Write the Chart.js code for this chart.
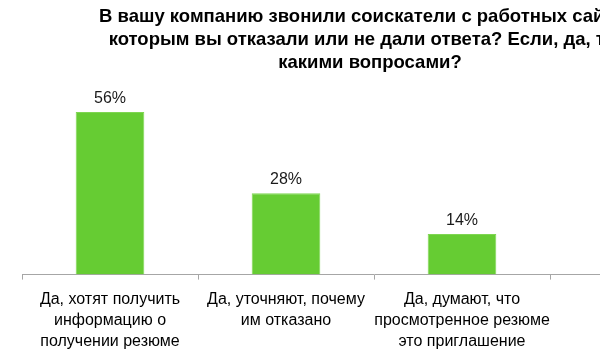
<!DOCTYPE html>
<html>
<head>
<meta charset="utf-8">
<script src="https://cdn.jsdelivr.net/npm/chart.js@4"></script>
<style>
  html, body { margin: 0; padding: 0; background: #fff; overflow: hidden; }
  #wrap { width: 726px; height: 364px; }
</style>
</head>
<body>
<div id="wrap"><canvas id="grafico" width="726" height="364"></canvas></div>
<script>
// datos (la 4ª categoría queda fuera del recorte)
const categorias = [
    ['Да, хотят получить', 'информацию о', 'получении резюме'],
    ['Да, уточняют, почему', 'им отказано'],
    ['Да, думают, что', 'просмотренное резюме', 'это приглашение'],
    ['']
];
const valores = [56, 28, 14];
const titulo = [
    'В вашу компанию звонили соискатели с работных сайтов,',
    'которым вы отказали или не дали ответа? Если, да, то с',
    'какими вопросами?'
];

const fuente = "'Liberation Sans', Arial, sans-serif";

// etiquetas de porcentaje sobre las barras
const etiquetas = {
    id: 'etiquetas',
    afterDatasetsDraw(chart) {
        const ctx = chart.ctx;
        const meta = chart.getDatasetMeta(0);
        ctx.save();
        ctx.font = '16px ' + fuente;
        ctx.fillStyle = '#1a1a1a';
        ctx.textAlign = 'center';
        ctx.textBaseline = 'alphabetic';
        meta.data.forEach((bar, i) => {
            const v = valores[i];
            if (v == null) return;
            ctx.fillText(v + '%', bar.x, bar.y - 9);
        });
        ctx.restore();
    }
};

const ctx = document.getElementById('grafico').getContext('2d');
new Chart(ctx, {
    type: 'bar',
    data: {
        labels: categorias,
        datasets: [{
            data: valores,
            backgroundColor: '#66cc33',
            borderColor: '#7fd652',
            borderWidth: 1,
            barPercentage: 0.39,
            categoryPercentage: 1
        }]
    },
    options: {
        responsive: false,
        animation: false,
        layout: { padding: { top: 0, bottom: 2, left: 14, right: 0 } },
        plugins: {
            legend: { display: false },
            tooltip: { enabled: false },
            title: {
                display: true,
                text: titulo,
                color: '#000',
                font: { family: fuente, size: 18.5, weight: 'bold', lineHeight: 1.243 },
                padding: { top: 5.5, bottom: 26 }
            }
        },
        scales: {
            x: {
                grid: {
                    offset: true,
                    drawOnChartArea: false,
                    drawTicks: true,
                    tickLength: 5,
                    color: '#a6a6a6'
                },
                border: { color: '#a6a6a6', width: 1 },
                ticks: {
                    autoSkip: false,
                    maxRotation: 0,
                    minRotation: 0,
                    padding: 10,
                    color: '#000',
                    font: { family: fuente, size: 16, lineHeight: 1.3 }
                }
            },
            y: {
                min: 0,
                max: 60,
                grid: { display: false },
                border: { display: false },
                ticks: { display: false },
                afterFit(scale) { scale.width = 8; }
            }
        }
    },
    plugins: [etiquetas]
});
</script>
</body>
</html>
